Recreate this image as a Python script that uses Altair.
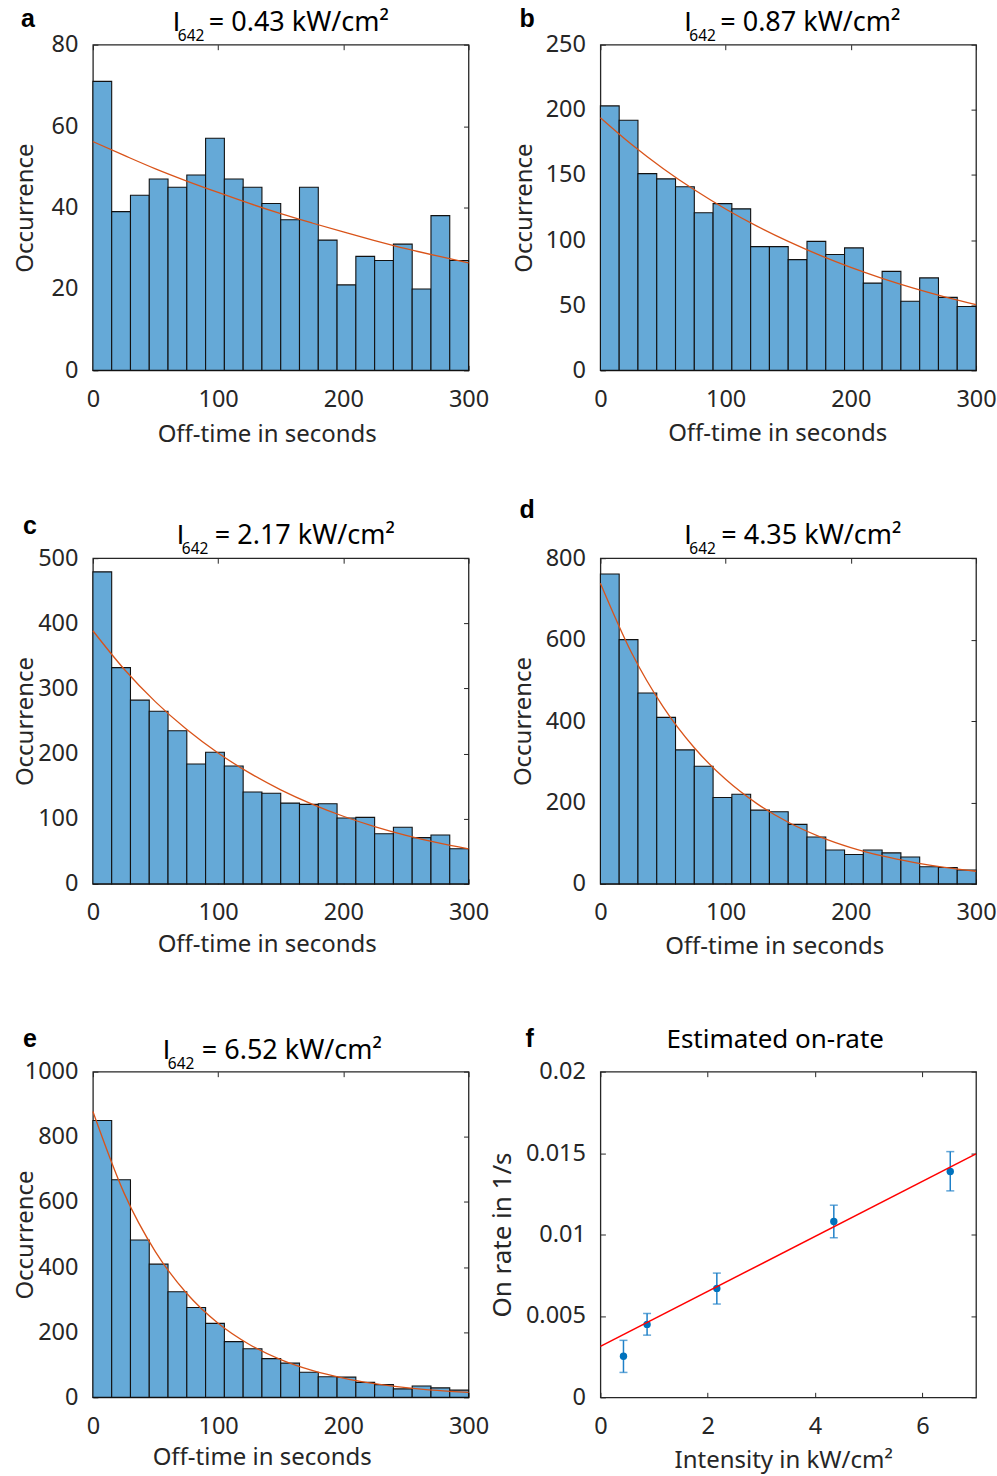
import altair as alt
import pandas as pd

FONT = "Noto Sans"
W, H = 376, 326
BAR = "#65A9D7"
ORANGE = "#D95319"
BLUE = "#0072BD"
EBAR = "#1F80C8"
AXC = "#262626"

# ---------------- data ----------------
bin_edges = list(range(0, 301, 15))
fit_t = [0, 25, 50, 75, 100, 125, 150, 175, 200, 225, 250, 275, 300]
xticks_hist = [0, 100, 200, 300]

counts_a = [71, 39, 43, 47, 45, 48, 57, 47, 45, 41, 37, 45, 32, 21, 28, 27, 31, 20, 38, 27]
counts_b = [203, 192, 151, 147, 141, 121, 128, 124, 95, 95, 85, 99, 89, 94, 67, 76, 53, 71, 56, 49]
counts_c = [479, 332, 282, 265, 235, 184, 202, 181, 141, 139, 124, 122, 123, 101, 102, 77, 87, 71, 75, 54]
counts_d = [761, 600, 469, 409, 329, 289, 212, 220, 181, 177, 146, 115, 83, 72, 83, 76, 66, 42, 40, 34]
counts_e = [850, 668, 483, 409, 324, 276, 227, 171, 149, 119, 105, 77, 63, 62, 46, 39, 26, 35, 29, 22]

fit_a = [56.2, 52.8, 49.5, 46.5, 43.7, 41.0, 38.5, 36.2, 34.0, 31.9, 29.9, 28.1, 26.4]
fit_b = [194, 173.4, 155.0, 138.6, 123.9, 110.7, 99.0, 88.5, 79.1, 70.7, 63.2, 56.5, 50.5]
fit_c = [388.6, 329.5, 279.4, 236.9, 200.9, 170.3, 144.4, 122.5, 103.8, 88.0, 74.6, 63.3, 53.7]
fit_d = [738.7, 567.2, 435.5, 334.4, 256.7, 197.1, 151.3, 116.2, 89.2, 68.5, 52.6, 40.4, 31.0]
fit_e = [877.6, 626.3, 446.9, 318.9, 227.6, 162.4, 115.9, 82.7, 59.0, 42.1, 30.1, 21.4, 15.3]

yticks_a = [0, 20, 40, 60, 80]
yticks_b = [0, 50, 100, 150, 200, 250]
yticks_c = [0, 100, 200, 300, 400, 500]
yticks_d = [0, 200, 400, 600, 800]
yticks_e = [0, 200, 400, 600, 800, 1000]

letters = ["a", "b", "c", "d", "e", "f"]
intensity_labels = ["0.43", "0.87", "2.17", "4.35", "6.52"]
title_f = "Estimated on-rate"

# panel f
intensity = [0.43, 0.87, 2.17, 4.35, 6.52]
on_rate = [0.00252, 0.00448, 0.00669, 0.0108, 0.01387]
rate_lo = [0.00153, 0.00382, 0.00573, 0.0098, 0.01268]
rate_hi = [0.00350, 0.00515, 0.00763, 0.0118, 0.01509]
line_x = [0, 7]
line_y = [0.00313, 0.01495]
xticks_f = [0, 2, 4, 6]
yticks_f = [0, 0.005, 0.01, 0.015, 0.02]

# text placement (pixels relative to each plot area)
letter_dx = [-72, -81, -70, -81, -70, -75]
letter_dy = [-18, -18, -24, -40, -25, -25]
title_I_x = [80, 84, 84, 84, 70]
title_eq_x = [116, 120, 122, 121, 109]
title_dy = [-14, -14, -14, -14, -13]
ytitle_dist = [60, 69, 60, 70, 60, 90]
xtitle_dist = [71, 70, 68, 70, 67, 70]
xtitle_dx = [-14, -11, -14, -14, -19, -5]


def ax_bottom(values, title, dist, dx, fmt="d"):
    return alt.Axis(orient="bottom", offset=-5, tickSize=5, values=values, format=fmt,
                    labelPadding=17, labelFlush=False, labelOverlap=False,
                    title=title, titleX=W / 2 + dx, titleY=dist + 5, titleAngle=0,
                    titleAlign="center", titleBaseline="alphabetic",
                    domain=False, grid=False)


def ax_left(values, title, dist, fmt="d", tsize=24):
    return alt.Axis(orient="left", offset=-5, tickSize=5, values=values, format=fmt,
                    labelPadding=15, labelFlush=False, labelOverlap=False,
                    title=title, titleX=-(dist + 5), titleY=H / 2, titleAngle=-90,
                    titleAlign="center", titleBaseline="alphabetic", titleFontSize=tsize,
                    domain=False, grid=False)


def ax_top(values):
    return alt.Axis(orient="top", offset=-5, tickSize=5, values=values, labels=False,
                    title=None, domain=False, grid=False)


def ax_right(values):
    return alt.Axis(orient="right", offset=-5, tickSize=5, values=values, labels=False,
                    title=None, domain=False, grid=False)


def letter_mark(i):
    df = pd.DataFrame({"letter": [letters[i]]})
    return alt.Chart(df).mark_text(font="Liberation Sans", fontWeight="bold", fontSize=25,
                                   color="#000000", align="left", baseline="alphabetic").encode(
        text="letter:N", x=alt.value(letter_dx[i]), y=alt.value(letter_dy[i]))


def intensity_title(i):
    df = pd.DataFrame({"sym": ["I"], "sub": ["642"], "rest": ["= " + intensity_labels[i] + " kW/cm²"]})
    base = alt.Chart(df)
    t_I = base.mark_text(font="Liberation Sans", fontSize=27, color="#000000", align="left",
                         baseline="alphabetic").encode(
        text="sym:N", x=alt.value(title_I_x[i]), y=alt.value(title_dy[i]))
    t_sub = base.mark_text(font=FONT, fontSize=15.5, color="#000000", align="left",
                           baseline="alphabetic").encode(
        text="sub:N", x=alt.value(title_I_x[i] + 5), y=alt.value(title_dy[i] + 10))
    t_rest = base.mark_text(font=FONT, fontSize=27, color="#000000", align="left",
                            baseline="alphabetic").encode(
        text="rest:N", x=alt.value(title_eq_x[i]), y=alt.value(title_dy[i]))
    return [t_I, t_sub, t_rest]


def hist_panel(i, counts, fit, yticks):
    bars_df = pd.DataFrame({"start": bin_edges[:-1], "end": bin_edges[1:], "count": counts})
    fit_df = pd.DataFrame({"t": fit_t, "fit": fit})
    xs = alt.Scale(domain=[0, 300], nice=False, zero=False)
    ys = alt.Scale(domain=[yticks[0], yticks[-1]], nice=False)
    bars = alt.Chart(bars_df).mark_rect(color=BAR, stroke="#111111", strokeWidth=1.1).encode(
        x=alt.X("start:Q", scale=xs,
                axis=ax_bottom(xticks_hist, "Off-time in seconds", xtitle_dist[i], xtitle_dx[i])),
        x2="end:Q",
        y=alt.Y("count:Q", scale=ys, axis=ax_left(yticks, "Occurrence", ytitle_dist[i])),
        y2=alt.datum(0),
    )
    curve = alt.Chart(fit_df).mark_line(color=ORANGE, strokeWidth=1.3, interpolate="monotone").encode(
        x=alt.X("t:Q", scale=xs, axis=ax_top(xticks_hist)),
        y=alt.Y("fit:Q", scale=ys, axis=ax_right(yticks)),
    )
    return alt.layer(bars, curve, letter_mark(i), *intensity_title(i)).resolve_axis(
        x="independent", y="independent").properties(width=W, height=H)


def rate_panel(i):
    pts_df = pd.DataFrame({"I": intensity, "rate": on_rate, "lo": rate_lo, "hi": rate_hi})
    line_df = pd.DataFrame({"I": line_x, "rate": line_y})
    xs = alt.Scale(domain=[0, 7], nice=False, zero=False)
    ys = alt.Scale(domain=[0, 0.02], nice=False)
    errs = alt.Chart(pts_df).mark_rule(color=EBAR, strokeWidth=1.5).encode(
        x=alt.X("I:Q", scale=xs, axis=None),
        y=alt.Y("lo:Q", scale=ys, axis=None), y2="hi:Q")
    cap_lo = alt.Chart(pts_df).mark_tick(color=EBAR, orient="horizontal", size=8, thickness=1.5).encode(
        x=alt.X("I:Q", scale=xs, axis=None), y=alt.Y("lo:Q", scale=ys, axis=None))
    cap_hi = alt.Chart(pts_df).mark_tick(color=EBAR, orient="horizontal", size=8, thickness=1.5).encode(
        x=alt.X("I:Q", scale=xs, axis=None), y=alt.Y("hi:Q", scale=ys, axis=None))
    pts = alt.Chart(pts_df).mark_circle(color=BLUE, opacity=1, size=55).encode(
        x=alt.X("I:Q", scale=xs,
                axis=ax_bottom(xticks_f, "Intensity in kW/cm²", xtitle_dist[i], xtitle_dx[i], fmt="d")),
        y=alt.Y("rate:Q", scale=ys,
                axis=ax_left(yticks_f, "On rate in 1/s", ytitle_dist[i], fmt="~g", tsize=26)))
    line = alt.Chart(line_df).mark_line(color="#FF0000", strokeWidth=1.5).encode(
        x=alt.X("I:Q", scale=xs, axis=ax_top(xticks_f)),
        y=alt.Y("rate:Q", scale=ys, axis=ax_right(yticks_f)))
    ttl = alt.Chart(pd.DataFrame({"t": [title_f]})).mark_text(
        font=FONT, fontSize=26, color="#000000", align="center", baseline="alphabetic").encode(
        text="t:N", x=alt.value(175), y=alt.value(-24))
    return alt.layer(errs, cap_lo, cap_hi, pts, line, letter_mark(i), ttl).resolve_axis(
        x="independent", y="independent").properties(width=W, height=H)


panels = [
    hist_panel(0, counts_a, fit_a, yticks_a),
    hist_panel(1, counts_b, fit_b, yticks_b),
    hist_panel(2, counts_c, fit_c, yticks_c),
    hist_panel(3, counts_d, fit_d, yticks_d),
    hist_panel(4, counts_e, fit_e, yticks_e),
    rate_panel(5),
]

chart = alt.concat(*panels, columns=2, spacing={"row": 188, "column": 132}, bounds="flush").properties(
    padding={"left": 13, "top": 5, "right": 0, "bottom": 0},
    background="white",
).configure_view(
    stroke=AXC, strokeWidth=1.3
).configure_axis(
    labelFont=FONT, titleFont=FONT, labelFontSize=23.5, titleFontSize=24,
    labelColor=AXC, titleColor=AXC, tickColor=AXC, tickWidth=1,
    titleFontWeight="normal", grid=False, domain=False
)

chart.save("out.html", embed_options={"renderer": "svg", "actions": False})
